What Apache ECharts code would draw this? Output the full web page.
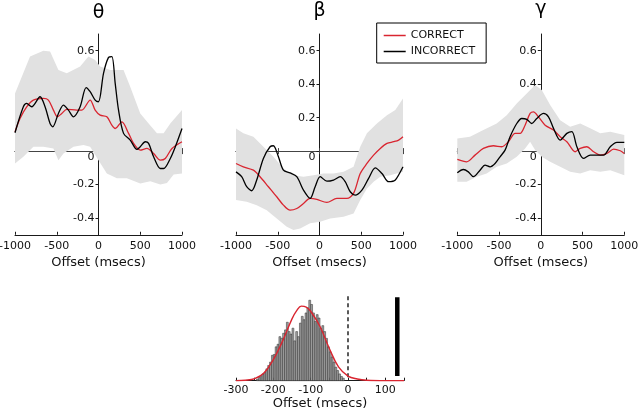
<!DOCTYPE html>
<html><head><meta charset="utf-8">
<script src="https://cdn.jsdelivr.net/npm/echarts@6/dist/echarts.min.js"></script>
<style>html,body{margin:0;padding:0;background:#fff}#c{width:640px;height:412px}</style>
</head><body><div id="c"></div>
<script>
// ---------- data ----------
const panelTitles = ['θ', 'β', 'γ'];
const seriesNames = ['CORRECT', 'INCORRECT'];
const yTickValues = [-0.4, -0.2, 0, 0.2, 0.4, 0.6];
const histTickLabels = [-300, -200, -100, 0, 100];

const thetaCorrect = [[-1000,0.115],[-940,0.195],[-860,0.265],[-780,0.305],[-660,0.315],[-600,0.305],[-540,0.245],[-492,0.205],[-440,0.225],[-380,0.25],[-260,0.245],[-200,0.245],[-100,0.305],[-40,0.245],[20,0.215],[100,0.205],[160,0.155],[200,0.135],[280,0.175],[360,0.106],[420,0.046],[500,0.006],[580,0.016],[660,-0.014],[740,-0.054],[800,-0.044],[880,0.016],[1000,0.056]];
const thetaIncorrect = [[-1000,0.11],[-900,0.265],[-860,0.285],[-800,0.265],[-700,0.325],[-640,0.265],[-580,0.165],[-548,0.145],[-480,0.225],[-420,0.275],[-360,0.245],[-300,0.205],[-220,0.265],[-148,0.38],[-100,0.355],[-40,0.305],[0,0.295],[60,0.465],[120,0.56],[160,0.565],[200,0.405],[240,0.245],[300,0.106],[380,0.066],[460,0.01],[500,0.026],[560,0.056],[600,0.046],[660,-0.034],[740,-0.104],[780,-0.104],[860,-0.044],[920,0.026],[1000,0.135]];
const thetaUpper = [[-1000,0.345],[-820,0.565],[-660,0.6],[-580,0.595],[-480,0.485],[-380,0.465],[-220,0.505],[-120,0.565],[-40,0.545],[20,0.505],[140,0.485],[300,0.485],[380,0.385],[500,0.225],[600,0.165],[700,0.106],[780,0.106],[860,0.165],[1000,0.245]];
const thetaLower = [[-1000,-0.074],[-900,-0.034],[-780,0.026],[-660,0.026],[-540,0.016],[-480,-0.054],[-420,-0.014],[-300,0.026],[-180,0.036],[-100,0.026],[0,-0.054],[100,-0.134],[220,-0.163],[340,-0.163],[500,-0.193],[620,-0.18],[740,-0.2],[820,-0.19],[900,-0.14],[1000,-0.134]];

const betaCorrect = [[-1000,-0.074],[-912,-0.094],[-792,-0.114],[-712,-0.153],[-612,-0.213],[-512,-0.273],[-432,-0.323],[-352,-0.353],[-272,-0.343],[-192,-0.313],[-112,-0.283],[-32,-0.289],[88,-0.307],[208,-0.283],[328,-0.283],[408,-0.253],[488,-0.134],[568,-0.074],[648,-0.024],[728,0.016],[808,0.046],[888,0.056],[948,0.066],[1000,0.086]];
const betaIncorrect = [[-1000,-0.124],[-932,-0.153],[-872,-0.213],[-812,-0.237],[-752,-0.173],[-672,-0.044],[-592,0.026],[-552,0.032],[-492,-0.034],[-432,-0.114],[-352,-0.13],[-272,-0.153],[-192,-0.233],[-112,-0.283],[-52,-0.213],[8,-0.153],[88,-0.18],[168,-0.173],[248,-0.153],[308,-0.183],[368,-0.243],[428,-0.263],[508,-0.233],[588,-0.163],[668,-0.1],[748,-0.134],[828,-0.183],[908,-0.173],[1000,-0.094]];
const betaUpper = [[-1000,0.135],[-912,0.106],[-792,0.086],[-672,0.026],[-552,-0.034],[-432,-0.104],[-312,-0.144],[-192,-0.153],[-72,-0.144],[48,-0.134],[168,-0.134],[288,-0.124],[408,-0.094],[488,0.026],[568,0.106],[688,0.165],[808,0.215],[908,0.245],[1000,0.315]];
const betaLower = [[-1000,-0.293],[-872,-0.303],[-752,-0.323],[-632,-0.353],[-512,-0.403],[-392,-0.452],[-312,-0.472],[-232,-0.462],[-112,-0.432],[8,-0.423],[128,-0.403],[288,-0.393],[408,-0.373],[488,-0.293],[568,-0.223],[648,-0.183],[728,-0.153],[848,-0.144],[1000,-0.124]];

const gammaCorrect = [[-1000,-0.05],[-888,-0.064],[-788,-0.024],[-688,0.016],[-568,0.032],[-468,0.026],[-388,0.056],[-308,0.106],[-248,0.106],[-188,0.155],[-128,0.225],[-88,0.235],[-28,0.205],[52,0.155],[152,0.126],[232,0.086],[312,0.056],[412,-0.004],[472,0.016],[552,0.026],[632,-0.004],[712,-0.024],[792,-0.014],[872,0.012],[952,0.002],[1000,-0.014]];
const gammaIncorrect = [[-1000,-0.13],[-928,-0.11],[-868,-0.124],[-808,-0.153],[-728,-0.114],[-668,-0.084],[-608,-0.094],[-548,-0.074],[-488,-0.034],[-428,0.006],[-368,0.086],[-288,0.165],[-228,0.195],[-168,0.19],[-108,0.165],[-48,0.195],[32,0.225],[92,0.205],[152,0.136],[232,0.066],[312,0.106],[372,0.116],[432,0.026],[512,-0.044],[592,-0.024],[672,-0.024],[752,-0.024],[832,0.026],[912,0.052],[1000,0.052]];
const gammaUpper = [[-1000,0.076],[-848,0.086],[-688,0.126],[-528,0.165],[-408,0.215],[-288,0.285],[-168,0.345],[-68,0.395],[12,0.365],[112,0.275],[232,0.185],[352,0.146],[472,0.165],[592,0.136],[712,0.106],[832,0.116],[1000,0.096]];
const gammaLower = [[-1000,-0.183],[-888,-0.183],[-768,-0.153],[-648,-0.134],[-528,-0.094],[-408,-0.074],[-288,-0.034],[-188,0.016],[-128,0.056],[-68,0.006],[12,-0.034],[112,-0.064],[232,-0.094],[352,-0.124],[472,-0.134],[592,-0.114],[712,-0.124],[832,-0.114],[1000,-0.144]];

// histogram (bin left edge in ms, relative height)
const histBinWidth = 5;
const histBinLeft = [-245,-240,-235,-230,-225,-220,-215,-210,-205,-200,-195,-190,-185,-180,-175,-170,-165,-160,-155,-150,-145,-140,-135,-130,-125,-120,-115,-110,-105,-100,-95,-90,-85,-80,-75,-70,-65,-60,-55,-50,-45,-40,-35,-30,-25,-20,-15];
const histHeight = [0.02,0.04,0.06,0.08,0.10,0.14,0.18,0.22,0.30,0.31,0.40,0.43,0.52,0.50,0.56,0.60,0.69,0.58,0.55,0.62,0.47,0.58,0.52,0.68,0.76,0.72,0.80,0.86,0.95,0.90,0.80,0.70,0.78,0.74,0.62,0.65,0.58,0.50,0.40,0.34,0.28,0.22,0.16,0.12,0.08,0.05,0.03];
const fitX = [-300,-275,-250,-225,-200,-175,-150,-137,-125,-112,-100,-75,-50,-25,0,25,50,100,150];
const fitY = [0,0.005,0.025,0.09,0.25,0.47,0.73,0.83,0.88,0.87,0.82,0.64,0.38,0.16,0.055,0.02,0.005,0,0];
const chanceLine = [[0,0.04],[0,1.0]];
const observedLine = [[132,0.055],[132,0.985]];

// ---------- layout ----------
const panels = [
  {title: panelTitles[0], correct: thetaCorrect, incorrect: thetaIncorrect, upper: thetaUpper, lower: thetaLower, left: 15, titleY: 13.5},
  {title: panelTitles[1], correct: betaCorrect, incorrect: betaIncorrect, upper: betaUpper, lower: betaLower, left: 236, titleY: 11.5},
  {title: panelTitles[2], correct: gammaCorrect, incorrect: gammaIncorrect, upper: gammaUpper, lower: gammaLower, left: 457.3, titleY: 9}
];
const FONT = 'DejaVu Sans';
const RED = '#d92530';
const AX = '#1a1a1a';
const PW = 167, PTOP = 34, PH = 200.75;
const YMIN = -0.5, YMAX = 0.7;

const grid = [], xAxis = [], yAxis = [], series = [], graphic = [];

panels.forEach((p, i) => {
  grid.push({left: p.left, top: PTOP, width: PW, height: PH, outerBoundsMode: 'none', containLabel: false});
  // bottom axis
  xAxis.push({
    gridIndex: i, type: 'value', min: -1000, max: 1000, interval: 500, position: 'bottom',
    axisLine: {onZero: false, lineStyle: {color: AX, width: 1}},
    axisTick: {inside: true, length: 3, lineStyle: {color: AX}},
    axisLabel: {fontFamily: FONT, fontSize: 11, color: '#111', margin: 6, formatter: v => String(v)},
    splitLine: {show: false},
    name: 'Offset (msecs)', nameLocation: 'middle', nameGap: 21,
    nameTextStyle: {fontFamily: FONT, fontSize: 13, color: '#111'}
  });
  // zero line (ticks up), moved from top down to y = 0
  xAxis.push({
    gridIndex: i, type: 'value', min: -1000, max: 1000, interval: 500, position: 'top',
    offset: -(YMAX / (YMAX - YMIN)) * PH,
    axisLine: {onZero: false, lineStyle: {color: '#444', width: 1}},
    axisTick: {length: 3, lineStyle: {color: '#444'}},
    axisLabel: {show: false}, splitLine: {show: false}
  });
  // zero line (ticks down), moved from bottom up to y = 0
  xAxis.push({
    gridIndex: i, type: 'value', min: -1000, max: 1000, interval: 500, position: 'bottom',
    offset: -(-YMIN / (YMAX - YMIN)) * PH,
    axisLine: {onZero: false, lineStyle: {color: '#444', width: 1}},
    axisTick: {length: 3, lineStyle: {color: '#444'}},
    axisLabel: {show: false}, splitLine: {show: false}
  });
  yAxis.push({
    gridIndex: i, type: 'value', min: YMIN, max: YMAX, position: 'left',
    offset: -PW / 2,
    axisLine: {show: true, onZero: false, lineStyle: {color: AX, width: 1}},
    axisTick: {show: true, length: 3, customValues: yTickValues, lineStyle: {color: AX}},
    axisLabel: {
      customValues: yTickValues, fontFamily: FONT, fontSize: 11, color: '#111', margin: 4,
      formatter: v => Math.abs(v) < 1e-9 ? '{z|0}' : v.toFixed(1),
      rich: {z: {fontFamily: FONT, fontSize: 11, color: '#111', padding: [12, 0, 0, 0]}}
    },
    splitLine: {show: false}
  });
  const up = p.upper, lo = p.lower;
  series.push({
    type: 'custom', xAxisIndex: 3 * i, yAxisIndex: i, silent: true, z: 1,
    data: [[0, 0]],
    renderItem: (params, api) => {
      const pts = up.map(d => api.coord(d)).concat(lo.slice().reverse().map(d => api.coord(d)));
      return {type: 'polygon', shape: {points: pts}, style: {fill: '#e1e1e1', stroke: null}};
    }
  });
  series.push({
    name: seriesNames[0], type: 'line', xAxisIndex: 3 * i, yAxisIndex: i, data: p.correct,
    smooth: 0.3, symbol: 'none', z: 3, lineStyle: {color: RED, width: 1.3}, itemStyle: {color: RED}
  });
  series.push({
    name: seriesNames[1], type: 'line', xAxisIndex: 3 * i, yAxisIndex: i, data: p.incorrect,
    smooth: 0.3, symbol: 'none', z: 4, lineStyle: {color: '#000', width: 1.3}, itemStyle: {color: '#000'}
  });
  graphic.push({
    type: 'text', x: p.left + PW / 2, y: p.titleY,
    style: {text: p.title, fontFamily: FONT, fontSize: 19, fill: '#000', textAlign: 'center', textVerticalAlign: 'middle'}
  });
});

// histogram grid
grid.push({left: 236, width: 168, top: 296, height: 84.7, outerBoundsMode: 'none', containLabel: false});
xAxis.push({
  gridIndex: 3, type: 'value', min: -300, max: 150, interval: 50, position: 'bottom',
  axisLine: {onZero: false, lineStyle: {color: AX, width: 1}},
  axisTick: {inside: true, length: 3, lineStyle: {color: AX}},
  axisLabel: {fontFamily: FONT, fontSize: 11, color: '#111', margin: 4,
    formatter: v => histTickLabels.indexOf(v) >= 0 ? String(v) : ''},
  splitLine: {show: false},
  name: 'Offset (msecs)', nameLocation: 'middle', nameGap: 16,
  nameTextStyle: {fontFamily: FONT, fontSize: 13, color: '#111'}
});
yAxis.push({gridIndex: 3, type: 'value', min: 0, max: 1, show: false, splitLine: {show: false}});
series.push({
  type: 'custom', xAxisIndex: 9, yAxisIndex: 3, silent: true, z: 2,
  data: histBinLeft.map((x, k) => [x, histHeight[k]]),
  renderItem: (params, api) => {
    const x0 = api.value(0), h = api.value(1);
    const a = api.coord([x0, 0]), b = api.coord([x0 + histBinWidth, h]);
    return {type: 'rect', shape: {x: a[0], y: b[1], width: b[0] - a[0], height: a[1] - b[1]},
      style: {fill: '#a3a3a3', stroke: '#2a2a2a', lineWidth: 0.5}};
  }
});
series.push({
  type: 'line', xAxisIndex: 9, yAxisIndex: 3, data: fitX.map((x, k) => [x, fitY[k]]),
  smooth: 0.4, symbol: 'none', z: 4, lineStyle: {color: RED, width: 1.4}, silent: true
});
series.push({
  type: 'line', xAxisIndex: 9, yAxisIndex: 3, data: chanceLine, symbol: 'none', z: 3, silent: true,
  lineStyle: {color: '#000', width: 1.3, type: [4, 3]}
});
series.push({
  type: 'line', xAxisIndex: 9, yAxisIndex: 3, data: observedLine, symbol: 'none', z: 3, silent: true,
  lineStyle: {color: '#000', width: 4.5, cap: 'butt'}
});

const chart = echarts.init(document.getElementById('c'), null, {renderer: 'canvas'});
chart.setOption({
  animation: false,
  backgroundColor: '#fff',
  textStyle: {fontFamily: FONT},
  grid, xAxis, yAxis, series, graphic,
  legend: {
    data: [{name: seriesNames[0], itemStyle: {color: RED}}, {name: seriesNames[1], itemStyle: {color: '#000'}}],
    orient: 'vertical', left: 376.7, top: 23, icon: 'rect',
    padding: [7, 11, 6, 7], itemWidth: 22, itemHeight: 1.5, itemGap: 5,
    borderColor: '#000', borderWidth: 1, backgroundColor: '#fff', borderRadius: 0,
    textStyle: {fontFamily: FONT, fontSize: 11, color: '#111'},
    selectedMode: false, z: 10
  }
});
</script></body></html>
